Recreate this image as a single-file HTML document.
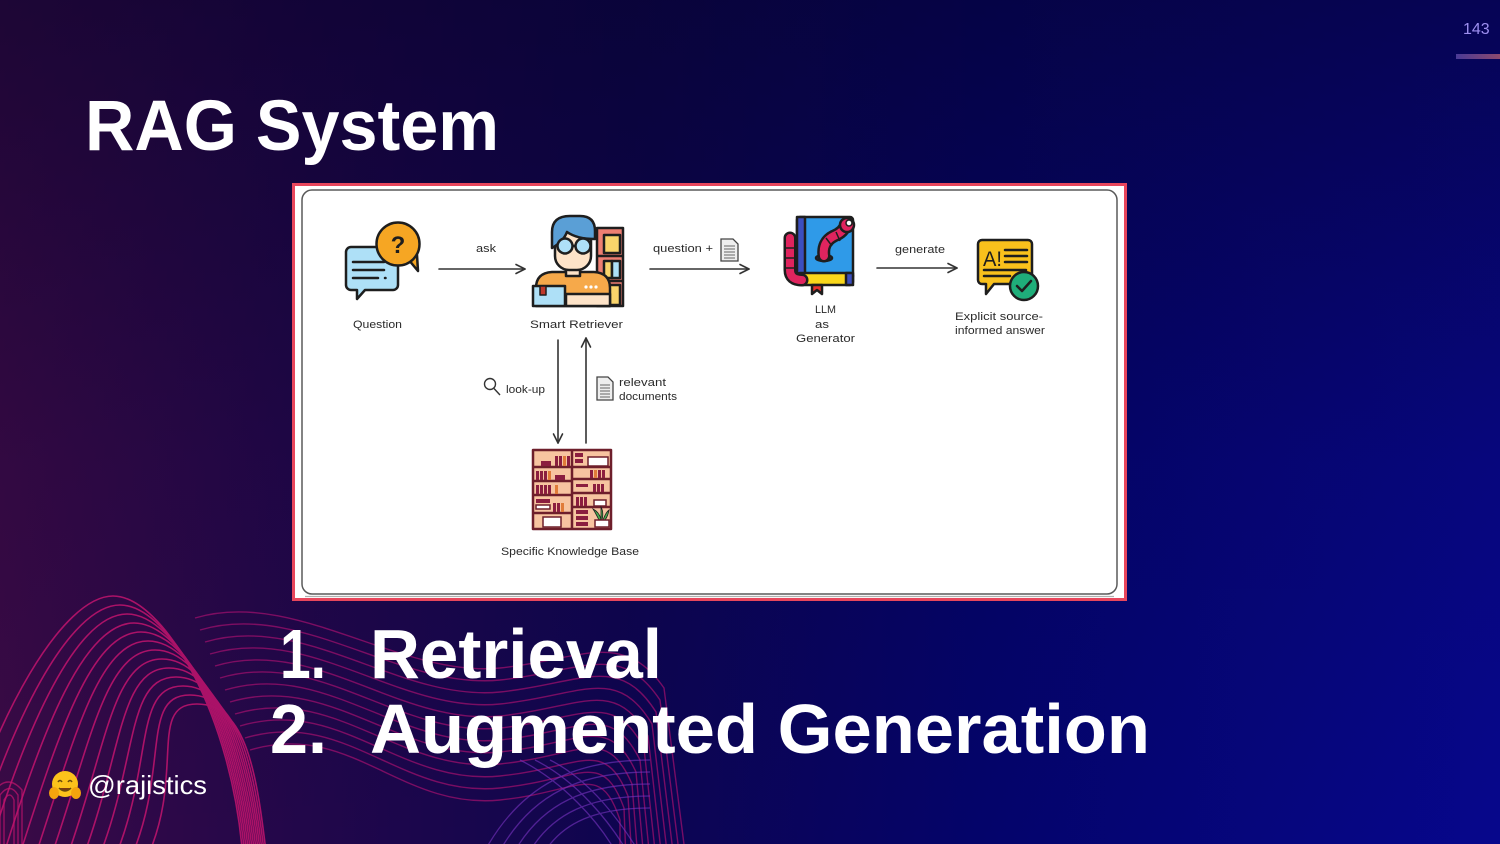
<!DOCTYPE html>
<html>
<head>
<meta charset="utf-8">
<style>
html,body{margin:0;padding:0;}
body{width:1500px;height:844px;overflow:hidden;position:relative;
background:
 linear-gradient(to bottom, rgba(6,2,40,0.55) 0%, rgba(6,2,40,0.15) 55%, rgba(6,2,40,0) 100%),
 linear-gradient(to right, #3a0a46 0%, #22074a 20%, #0e0550 42%, #04046a 65%, #07078c 100%);
font-family:"Liberation Sans", sans-serif;}
svg{position:absolute;left:0;top:0;}
</style>
</head>
<body>
<svg width="1500" height="844" viewBox="0 0 1500 844" xmlns="http://www.w3.org/2000/svg">
<defs>
<linearGradient id="bar" x1="0" x2="1" y1="0" y2="0">
<stop offset="0" stop-color="#4a3a96"/><stop offset="1" stop-color="#8c4a6e"/>
</linearGradient>
</defs>

<!-- waves family A -->
<g fill="none" stroke="#c2146e" stroke-width="1.6" opacity="0.85">
<path d="M-46,860 C-6,715 63,596 113,596 C163,596 233,715 243,860"/>
<path d="M-30,860 C10,720 70,605 120,605 C170,605 235,720 245,860"/>
<path d="M-14,860 C26,725 77,614 127,614 C177,614 237,725 247,860"/>
<path d="M2,860 C42,730 84,623 134,623 C184,623 239,730 249,860"/>
<path d="M18,860 C58,735 91,632 141,632 C191,632 241,735 251,860"/>
<path d="M34,860 C74,740 98,641 148,641 C198,641 243,740 253,860"/>
<path d="M50,860 C90,745 105,650 155,650 C205,650 245,745 255,860"/>
<path d="M66,860 C106,750 112,659 162,659 C212,659 247,750 257,860"/>
<path d="M82,860 C122,755 119,668 169,668 C219,668 249,755 259,860"/>
<path d="M98,860 C138,760 126,677 176,677 C226,677 251,760 261,860"/>
<path d="M114,860 C154,765 133,686 183,686 C233,686 253,765 263,860"/>
<path d="M130,860 C170,770 140,695 190,695 C240,695 255,770 265,860"/>
<path d="M146,860 C186,775 147,704 197,704 C247,704 257,775 267,860"/>
</g>
<!-- waves family B -->
<g fill="none" stroke="#a4106e" stroke-width="1.4" opacity="0.7">
<path d="M195,618 C295,588 400,678 500,668 C580,660 622,628 664,688 L686,860"/>
<path d="M200,630 C300,600 400,690 500,680 C580,672 620,640 660,700 L680,860"/>
<path d="M205,642 C305,612 400,702 500,692 C580,684 618,652 656,712 L674,860"/>
<path d="M210,654 C310,624 400,714 500,704 C580,696 616,664 652,724 L668,860"/>
<path d="M215,666 C315,636 400,726 500,716 C580,708 614,676 648,736 L662,860"/>
<path d="M220,678 C320,648 400,738 500,728 C580,720 612,688 644,748 L656,860"/>
<path d="M225,690 C325,660 400,750 500,740 C580,732 610,700 640,760 L650,860"/>
<path d="M230,702 C330,672 400,762 500,752 C580,744 608,712 636,772 L644,860"/>
<path d="M235,714 C335,684 400,774 500,764 C580,756 606,724 632,784 L638,860"/>
<path d="M240,726 C340,696 400,786 500,776 C580,768 604,736 628,796 L632,860"/>
<path d="M245,738 C345,708 400,798 500,788 C580,780 602,748 624,808 L626,860"/>
<path d="M250,750 C350,720 400,810 500,800 C580,792 600,760 620,820 L620,860"/>
</g>
<!-- purple lattice -->
<g fill="none" stroke="#7a34c4" stroke-width="1.3" opacity="0.6">
<path d="M480,860 C520,780 580,760 650,760"/>
<path d="M495,860 C530,790 585,772 650,772"/>
<path d="M510,860 C540,800 590,784 650,784"/>
<path d="M525,860 C550,810 595,796 650,796"/>
<path d="M540,860 C560,820 600,808 650,808"/>
<path d="M520,760 C560,780 600,820 620,860"/>
<path d="M535,760 C575,780 610,820 632,860"/>
<path d="M550,760 C590,780 620,820 644,860"/>
</g>
<!-- left edge arch -->
<g fill="none" stroke="#c2146e" stroke-width="1.4" opacity="0.7">
<path d="M-5,844 L-5,790 Q8,774 22,790 L22,844"/>
<path d="M0,844 L0,795 Q10,782 18,795 L18,844"/>
<path d="M4,844 L4,800 Q10,790 14,800 L14,844"/>
</g>

<!-- page number -->
<text x="1463" y="34" font-size="16" fill="#9d8ff0" font-family="Liberation Sans, sans-serif">143</text>
<rect x="1456" y="54" width="44" height="5" fill="url(#bar)"/>

<!-- title -->
<text x="85" y="150" font-size="71" font-weight="bold" fill="#ffffff" textLength="414" lengthAdjust="spacingAndGlyphs">RAG System</text>

<!-- diagram frame -->
<rect x="293.5" y="184.5" width="832" height="415" fill="#ffffff" stroke="#e8465c" stroke-width="3"/>
<rect x="302" y="190" width="815" height="404" rx="10" fill="none" stroke="#5a5a5a" stroke-width="1.5"/>
<path d="M305,596.5 L1114,596.5" stroke="#b0b0b0" stroke-width="1.2"/>

<!-- Question icon -->
<g stroke="#1e1e1e" stroke-width="2.5" stroke-linejoin="round" stroke-linecap="round">
<path d="M351,247 h42 a5,5 0 0 1 5,5 v33 a5,5 0 0 1 -5,5 h-28 l-8,9 v-9 h-6 a5,5 0 0 1 -5,-5 v-33 a5,5 0 0 1 5,-5z" fill="#aee0f7"/>
<line x1="353" y1="262" x2="384" y2="262"/>
<line x1="353" y1="270" x2="384" y2="270"/>
<line x1="353" y1="278" x2="378" y2="278"/>
<line x1="385" y1="278" x2="385.5" y2="278"/>
<path d="M408,259 L418,271 L417,255z" fill="#f6a623"/>
<circle cx="398" cy="244" r="21.5" fill="#f6a623"/>
</g>
<text x="398" y="253" font-size="24" font-weight="bold" fill="#1e1e1e" text-anchor="middle">?</text>

<!-- Smart Retriever icon -->
<g stroke="#1e1e1e" stroke-width="2.5" stroke-linejoin="round">
<rect x="597" y="228" width="26" height="78" fill="#ee7f72"/>
<rect x="604" y="235" width="16" height="18" fill="#f9d46b"/>
<line x1="597" y1="256" x2="623" y2="256"/>
<rect x="604" y="261" width="8" height="17" fill="#f9d46b"/>
<rect x="612" y="261" width="8" height="17" fill="#aee0f7"/>
<line x1="597" y1="281" x2="623" y2="281"/>
<rect x="606" y="285" width="14" height="20" fill="#f9d46b"/>
<path d="M536,306 v-18 q0,-15 16,-16 h42 q16,1 16,16 v18 z" fill="#f6a94a"/>
<rect x="566" y="264" width="14" height="12" fill="#fde3c8"/>
<rect x="555" y="226" width="36" height="44" rx="14" fill="#fde3c8"/>
<path d="M552,248 v-16 q0,-16 18,-16 h10 q15,0 15,15 v8 q-18,0 -28,-7 q-4,10 -15,16z" fill="#5a9fd6"/>
<circle cx="565" cy="246" r="7.5" fill="#aee0f7"/>
<circle cx="583" cy="246" r="7.5" fill="#aee0f7"/>
<line x1="572" y1="246" x2="576" y2="246"/>
<rect x="566" y="294" width="44" height="12" fill="#fde3c8"/>
<rect x="533" y="286" width="32" height="20" fill="#aee0f7"/>
<rect x="540" y="286" width="6" height="9" fill="#c0392b" stroke-width="1.5"/>
</g>
<g fill="#ffffff"><circle cx="586" cy="287" r="1.6"/><circle cx="591" cy="287" r="1.6"/><circle cx="596" cy="287" r="1.6"/></g>

<!-- LLM icon -->
<g stroke="#1e1e1e" stroke-width="2.5" stroke-linejoin="round" stroke-linecap="round">
<rect x="797" y="217" width="56" height="62" rx="3" fill="#2f9ae8"/>
<rect x="797" y="217" width="8" height="62" fill="#3c4fbf"/>
<rect x="797" y="273" width="56" height="12" rx="3" fill="#f9d71c"/>
<rect x="846" y="273" width="7" height="12" fill="#3c4fbf"/>
<path d="M812,285 v9 l5,-4 l5,4 v-9z" fill="#e8322d"/>
<ellipse cx="824" cy="258" rx="8" ry="3" fill="#1e3a8a"/>
</g>
<g fill="none" stroke-linecap="round">
<path d="M790,238 v32 q0,10 12,10" stroke="#1e1e1e" stroke-width="13"/>
<path d="M790,238 v32 q0,10 12,10" stroke="#e0245e" stroke-width="8"/>
<path d="M824,256 q-2,-14 10,-20 q10,-4 12,-12" stroke="#1e1e1e" stroke-width="13"/>
<path d="M824,256 q-2,-14 10,-20 q10,-4 12,-12" stroke="#e0245e" stroke-width="8"/>
</g>
<g stroke="#1e1e1e" stroke-width="1.5">
<line x1="785" y1="248" x2="795" y2="248"/><line x1="785" y1="258" x2="795" y2="258"/><line x1="785" y1="268" x2="795" y2="268"/>
<line x1="826" y1="238" x2="832" y2="246"/><line x1="836" y1="232" x2="840" y2="241"/>
<circle cx="847" cy="225" r="7" fill="#e0245e" stroke-width="2.5"/>
<circle cx="849" cy="223" r="3" fill="#ffffff"/>
</g>

<!-- Answer icon -->
<g stroke="#1e1e1e" stroke-width="2.5" stroke-linejoin="round" stroke-linecap="round">
<path d="M982,240 h46 a4,4 0 0 1 4,4 v36 a4,4 0 0 1 -4,4 h-34 l-8,10 v-10 h-4 a4,4 0 0 1 -4,-4 v-36 a4,4 0 0 1 4,-4z" fill="#f9c11c"/>
<line x1="1005" y1="250" x2="1027" y2="250"/>
<line x1="1005" y1="256" x2="1027" y2="256"/>
<line x1="1005" y1="262" x2="1027" y2="262"/>
<line x1="984" y1="270" x2="1026" y2="270"/>
<line x1="984" y1="276" x2="1010" y2="276"/>
<circle cx="1024" cy="286" r="14" fill="#1fae7a"/>
<path d="M1017,286 l5,5 l9,-10" fill="none"/>
</g>
<text x="983" y="266" font-size="21" fill="#1e1e1e" textLength="19" lengthAdjust="spacingAndGlyphs">A!</text>

<!-- Arrows -->
<g stroke="#333333" stroke-width="1.6" fill="none" stroke-linecap="round" stroke-linejoin="round">
<line x1="439" y1="269" x2="525" y2="269"/><polyline points="516,264.5 525,269 516,273.5"/>
<line x1="650" y1="269" x2="749" y2="269"/><polyline points="740,264.5 749,269 740,273.5"/>
<line x1="877" y1="268" x2="957" y2="268"/><polyline points="948,263.5 957,268 948,272.5"/>
<line x1="558" y1="340" x2="558" y2="443"/><polyline points="553.5,434 558,443 562.5,434"/>
<line x1="586" y1="443" x2="586" y2="338"/><polyline points="581.5,347 586,338 590.5,347"/>
</g>

<!-- doc icons + magnifier -->
<g stroke="#444" stroke-width="1.3" fill="#eeeeee">
<path d="M721,239 h12 l5,5 v17 h-17z"/>
<path d="M597,377 h11 l5,5 v18 h-16z"/>
</g>
<g stroke="#666" stroke-width="1">
<line x1="724" y1="246" x2="735" y2="246"/><line x1="724" y1="249" x2="735" y2="249"/><line x1="724" y1="252" x2="735" y2="252"/><line x1="724" y1="255" x2="735" y2="255"/><line x1="724" y1="258" x2="735" y2="258"/>
<line x1="600" y1="385" x2="610" y2="385"/><line x1="600" y1="388" x2="610" y2="388"/><line x1="600" y1="391" x2="610" y2="391"/><line x1="600" y1="394" x2="610" y2="394"/><line x1="600" y1="397" x2="610" y2="397"/>
</g>
<g stroke="#333" stroke-width="1.4" fill="none">
<circle cx="490" cy="384" r="5.5"/>
<line x1="494" y1="388.5" x2="500" y2="395"/>
</g>

<!-- Bookshelf -->
<g stroke="#6e1f2b" stroke-width="2.5" stroke-linejoin="round">
<rect x="533" y="450" width="78" height="79" fill="#f7c4a0"/>
<line x1="572" y1="450" x2="572" y2="529"/>
<line x1="533" y1="467" x2="611" y2="467"/>
<line x1="533" y1="481" x2="572" y2="481"/>
<line x1="533" y1="495" x2="572" y2="495"/>
<line x1="533" y1="513" x2="572" y2="513"/>
<line x1="572" y1="479" x2="611" y2="479"/>
<line x1="572" y1="493" x2="611" y2="493"/>
<line x1="572" y1="507" x2="611" y2="507"/>
</g>
<g fill="#8b1e3f">
<rect x="555" y="456" width="3" height="10"/><rect x="559" y="456" width="3" height="10"/><rect x="563" y="456" width="3" height="10" fill="#e07b39"/><rect x="567" y="456" width="3" height="10"/>
<rect x="541" y="461" width="10" height="5"/>
<rect x="536" y="471" width="3" height="9"/><rect x="540" y="471" width="3" height="9"/><rect x="544" y="471" width="3" height="9"/><rect x="548" y="471" width="3" height="9" fill="#e07b39"/><rect x="555" y="475" width="10" height="5"/>
<rect x="536" y="485" width="3" height="9"/><rect x="540" y="485" width="3" height="9"/><rect x="544" y="485" width="3" height="9"/><rect x="548" y="485" width="3" height="9"/><rect x="555" y="485" width="3" height="9" fill="#e07b39"/>
<rect x="536" y="499" width="14" height="4"/><rect x="536" y="505" width="14" height="4" fill="#ffffff" stroke="#6e1f2b" stroke-width="1.5"/><rect x="553" y="503" width="3" height="9"/><rect x="557" y="503" width="3" height="9"/><rect x="561" y="503" width="3" height="9" fill="#e07b39"/>
<rect x="543" y="517" width="18" height="10" fill="#ffffff" stroke="#6e1f2b" stroke-width="1.5"/>
<rect x="575" y="453" width="8" height="4"/><rect x="575" y="459" width="8" height="4"/><rect x="588" y="457" width="20" height="9" fill="#ffffff" stroke="#6e1f2b" stroke-width="1.5"/>
<rect x="590" y="470" width="3" height="8"/><rect x="594" y="470" width="3" height="8" fill="#e07b39"/><rect x="598" y="470" width="3" height="8"/><rect x="602" y="470" width="3" height="8"/>
<rect x="576" y="484" width="12" height="3"/><rect x="593" y="484" width="3" height="8"/><rect x="597" y="484" width="3" height="8"/><rect x="601" y="484" width="3" height="8"/>
<rect x="576" y="497" width="3" height="9"/><rect x="580" y="497" width="3" height="9"/><rect x="584" y="497" width="3" height="9"/><rect x="594" y="500" width="12" height="6" fill="#ffffff" stroke="#6e1f2b" stroke-width="1.5"/>
<rect x="576" y="510" width="12" height="4"/><rect x="576" y="516" width="12" height="4"/><rect x="576" y="522" width="12" height="4"/>
</g>
<g fill="#4caf50" stroke="#1e1e1e" stroke-width="0.8">
<path d="M599,520 q-4,-8 -6,-11 q6,3 8,10z"/><path d="M601,520 q0,-9 0,-13 q3,5 1,13z"/><path d="M603,520 q3,-8 6,-10 q-1,6 -4,10z"/>
</g>
<rect x="595" y="520" width="14" height="7" fill="#ffffff" stroke="#6e1f2b" stroke-width="1.5"/>

<!-- Diagram labels -->
<g font-family="Liberation Sans, DejaVu Sans, sans-serif" font-size="11" fill="#2a2a2a">
<text x="476" y="252" textLength="20" lengthAdjust="spacingAndGlyphs">ask</text>
<text x="353" y="328" textLength="49" lengthAdjust="spacingAndGlyphs">Question</text>
<text x="530" y="328" textLength="93" lengthAdjust="spacingAndGlyphs">Smart Retriever</text>
<text x="653" y="252" textLength="60" lengthAdjust="spacingAndGlyphs">question +</text>
<text x="815" y="313" textLength="21" lengthAdjust="spacingAndGlyphs">LLM</text>
<text x="815" y="328" textLength="14" lengthAdjust="spacingAndGlyphs">as</text>
<text x="796" y="342" textLength="59" lengthAdjust="spacingAndGlyphs">Generator</text>
<text x="895" y="253" textLength="50" lengthAdjust="spacingAndGlyphs">generate</text>
<text x="955" y="320" textLength="88" lengthAdjust="spacingAndGlyphs">Explicit source-</text>
<text x="955" y="334" textLength="90" lengthAdjust="spacingAndGlyphs">informed answer</text>
<text x="506" y="393" textLength="39" lengthAdjust="spacingAndGlyphs">look-up</text>
<text x="619" y="386" textLength="47" lengthAdjust="spacingAndGlyphs">relevant</text>
<text x="619" y="400" textLength="58" lengthAdjust="spacingAndGlyphs">documents</text>
<text x="501" y="555" textLength="138" lengthAdjust="spacingAndGlyphs">Specific Knowledge Base</text>
</g>

<!-- list -->
<g font-size="70" font-weight="bold" fill="#ffffff">
<text x="280" y="678" textLength="46" lengthAdjust="spacingAndGlyphs">1.</text>
<text x="370" y="678" textLength="292" lengthAdjust="spacingAndGlyphs">Retrieval</text>
<text x="270" y="753" textLength="57" lengthAdjust="spacingAndGlyphs">2.</text>
<text x="370" y="753" textLength="780" lengthAdjust="spacingAndGlyphs">Augmented Generation</text>
</g>

<!-- handle -->
<g>
<circle cx="65" cy="784" r="13" fill="#fcc21b"/>
<path d="M58,782 q2,-3 4,0 M68,782 q2,-3 4,0" stroke="#6b4a0a" stroke-width="1.5" fill="none"/>
<path d="M59,788 q6,6 12,0" stroke="#6b4a0a" stroke-width="1.5" fill="#7a3a10"/>
<ellipse cx="54" cy="793" rx="5" ry="6" fill="#f4a40e"/>
<ellipse cx="76" cy="793" rx="5" ry="6" fill="#f4a40e"/>
</g>
<text x="88" y="794" font-size="26" fill="#ffffff" textLength="119" lengthAdjust="spacingAndGlyphs">@rajistics</text>
</svg>
</body>
</html>
